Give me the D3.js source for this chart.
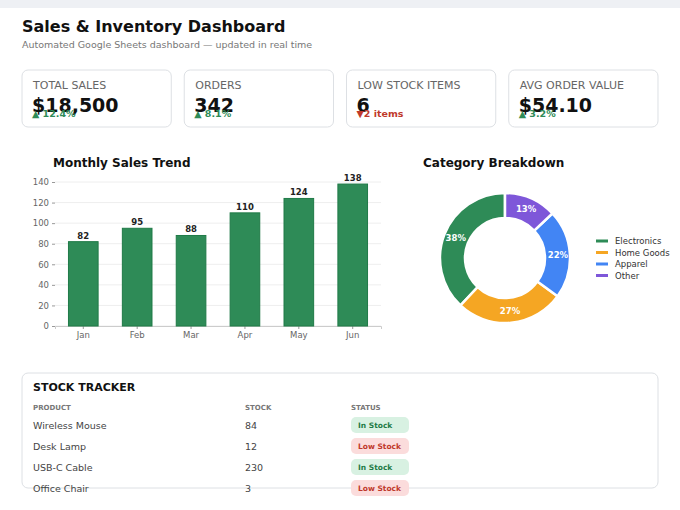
<!DOCTYPE html>
<html><head><meta charset="utf-8">
<script src="https://cdn.jsdelivr.net/npm/d3@7"></script>
<style>body{margin:0;background:#fff;font-family:"DejaVu Sans",sans-serif;overflow:hidden}</style>
</head><body>
<svg id="c" width="680" height="510"></svg>
<script>
// data
const kpiLabels = ["TOTAL SALES", "ORDERS", "LOW STOCK ITEMS", "AVG ORDER VALUE"];
const kpiValues = ["$18,500", "342", "6", "$54.10"];
const kpiDeltas = ["▲ 12.4%", "▲ 8.1%", "▼2 items", "▲ 3.2%"];
const kpiUp = [true, true, false, true];

const months = ["Jan", "Feb", "Mar", "Apr", "May", "Jun"];
const sales = [82, 95, 88, 110, 124, 138];

const categories = ["Electronics", "Home Goods", "Apparel", "Other"];
const shares = [38, 27, 22, 13];
const catColors = ["#2e8b57", "#f5a623", "#4285f4", "#7e57d9"];

const products = ["Wireless Mouse", "Desk Lamp", "USB-C Cable", "Office Chair"];
const stock = [84, 12, 230, 3];
const status = ["In Stock", "Low Stock", "In Stock", "Low Stock"];

const svg = d3.select("#c");
svg.append("rect").attr("width", 680).attr("height", 8).attr("fill", "#eef0f4");
svg.append("text").attr("x", 22).attr("y", 32).attr("font-size", 16).attr("font-weight", "bold")
  .attr("fill", "#111").text("Sales & Inventory Dashboard");
svg.append("text").attr("x", 22).attr("y", 48).attr("font-size", 9.5).attr("fill", "#777")
  .text("Automated Google Sheets dashboard — updated in real time");

// KPI cards
const cardX = d3.scaleBand().domain(d3.range(4)).range([22, 658]).paddingInner(0.08);
kpiLabels.forEach((l, i) => {
  const g = svg.append("g").attr("transform", `translate(${cardX(i)},70)`);
  g.append("rect").attr("width", cardX.bandwidth()).attr("height", 57).attr("rx", 6)
    .attr("fill", "#fff").attr("stroke", "#dde0e4");
  g.append("text").attr("x", 11).attr("y", 19).attr("font-size", 11).attr("fill", "#666").text(l);
  g.append("text").attr("x", 10).attr("y", 42).attr("font-size", 19).attr("font-weight", "bold")
    .attr("fill", "#111").text(kpiValues[i]);
  g.append("text").attr("x", 10).attr("y", 47).attr("font-size", 9.5).attr("font-weight", "bold")
    .attr("fill", kpiUp[i] ? "#2e8b57" : "#c0392b").text(kpiDeltas[i]);
});

// Bar chart
svg.append("text").attr("x", 53).attr("y", 167).attr("font-size", 12).attr("font-weight", "bold")
  .attr("fill", "#111").text("Monthly Sales Trend");
const x = d3.scaleBand().domain(months).range([55, 381]).paddingInner(0.45).paddingOuter(0.25);
const y = d3.scaleLinear().domain([0, 140]).range([326, 182]);
const grid = svg.append("g");
grid.selectAll("line").data(y.ticks(7)).join("line")
  .attr("x1", 55).attr("x2", 381).attr("y1", d => y(d)).attr("y2", d => y(d))
  .attr("stroke", "#eee");
const ya = svg.append("g").attr("transform", "translate(55,0)").call(d3.axisLeft(y).ticks(7).tickSize(3));
const xa = svg.append("g").attr("transform", "translate(0,326)").call(d3.axisBottom(x).tickSize(3));
[ya, xa].forEach(a => {
  a.selectAll("text").attr("font-size", 8.5).attr("fill", "#666").attr("font-family", "DejaVu Sans");
  a.selectAll("line").attr("stroke", "#999");
  a.select(".domain").attr("stroke", "#ccc");
});
ya.select(".domain").remove();
svg.append("g").selectAll("rect").data(sales).join("rect")
  .attr("x", (d, i) => x(months[i])).attr("width", x.bandwidth())
  .attr("y", d => y(d)).attr("height", d => y(0) - y(d))
  .attr("fill", "#2e8b57").attr("stroke", "#1f7a47");
svg.append("g").selectAll("text").data(sales).join("text")
  .attr("x", (d, i) => x(months[i]) + x.bandwidth() / 2).attr("y", d => y(d) - 3)
  .attr("text-anchor", "middle").attr("font-size", 8.5).attr("font-weight", "bold").attr("fill", "#222")
  .text(d => d);

// Donut
svg.append("text").attr("x", 423).attr("y", 167).attr("font-size", 12).attr("font-weight", "bold")
  .attr("fill", "#111").text("Category Breakdown");
const pie = d3.pie().sort(null).startAngle(0).endAngle(-2 * Math.PI);
const arcs = pie(shares);
const arc = d3.arc().innerRadius(40).outerRadius(65);
const dg = svg.append("g").attr("transform", "translate(505,258)");
dg.selectAll("path").data(arcs).join("path").attr("d", arc)
  .attr("fill", (d, i) => catColors[i]).attr("stroke", "#fff").attr("stroke-width", 2.5);
const lab = d3.arc().innerRadius(53).outerRadius(53);
dg.selectAll("text").data(arcs).join("text")
  .attr("transform", d => `translate(${lab.centroid(d)})`).attr("dy", "0.35em")
  .attr("text-anchor", "middle").attr("font-size", 8.5).attr("font-weight", "bold").attr("fill", "#fff")
  .text(d => d.data + "%");
const lg = svg.append("g").attr("transform", "translate(596,241)");
categories.forEach((c, i) => {
  lg.append("rect").attr("x", 0).attr("y", i * 11.5 - 1.5).attr("width", 12).attr("height", 3).attr("fill", catColors[i]);
  lg.append("text").attr("x", 19).attr("y", i * 11.5 + 3).attr("font-size", 8.5).attr("fill", "#333").text(c);
});

// Stock table
svg.append("rect").attr("x", 22).attr("y", 373).attr("width", 636).attr("height", 115).attr("rx", 6)
  .attr("fill", "#fff").attr("stroke", "#dde0e4");
svg.append("text").attr("x", 33).attr("y", 391).attr("font-size", 11).attr("font-weight", "bold")
  .attr("fill", "#111").text("STOCK TRACKER");
const cols = [33, 245, 351];
["PRODUCT", "STOCK", "STATUS"].forEach((h, i) =>
  svg.append("text").attr("x", cols[i]).attr("y", 410).attr("font-size", 7).attr("font-weight", "bold")
    .attr("fill", "#777").text(h));
const rowY = d3.scalePoint().domain(d3.range(4)).range([429, 492]);
products.forEach((p, i) => {
  const yy = rowY(i);
  svg.append("text").attr("x", cols[0]).attr("y", yy).attr("font-size", 9.5).attr("fill", "#444").text(p);
  svg.append("text").attr("x", cols[1]).attr("y", yy).attr("font-size", 9.5).attr("fill", "#444").text(stock[i]);
  const ok = status[i] === "In Stock";
  svg.append("rect").attr("x", cols[2]).attr("y", yy - 12).attr("width", 58).attr("height", 16).attr("rx", 5)
    .attr("fill", ok ? "#d8f1e2" : "#fbdcdc");
  svg.append("text").attr("x", cols[2] + 7).attr("y", yy - 1).attr("font-size", 7.5).attr("font-weight", "bold")
    .attr("fill", ok ? "#1e7b45" : "#c0392b").text(status[i]);
});
</script>
</body></html>
